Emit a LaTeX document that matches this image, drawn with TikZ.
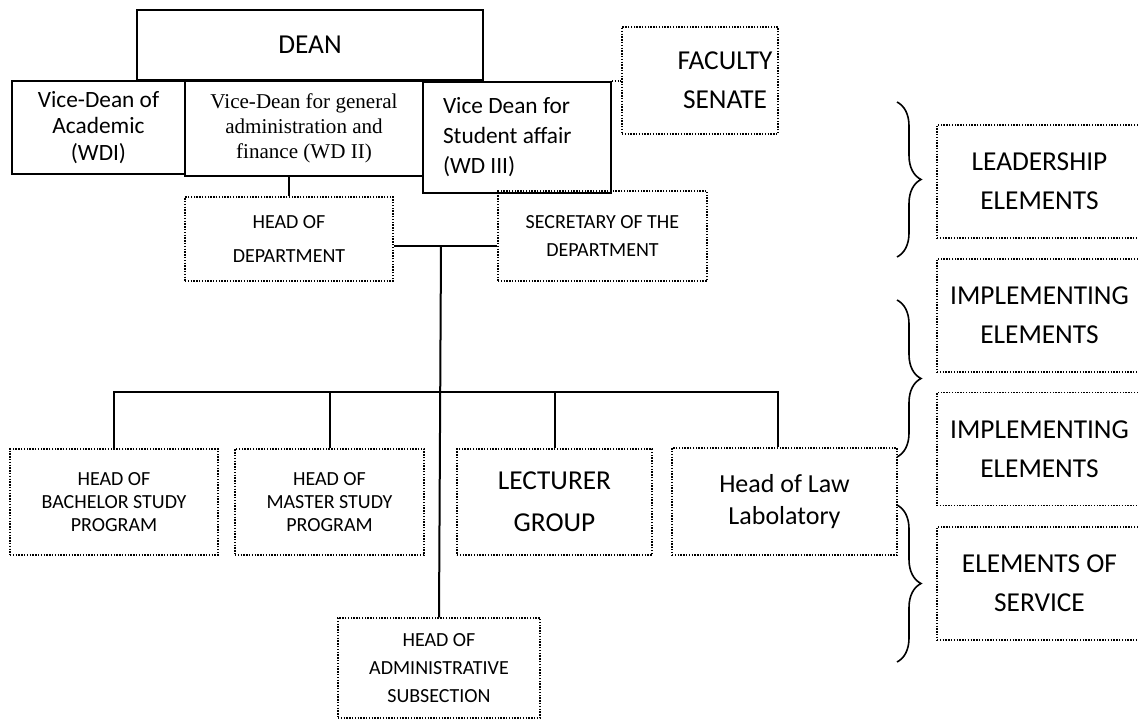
\documentclass[tikz,border=0pt]{standalone}
\usepackage{fontspec}
\setmainfont{Carlito}
\newfontfamily\timesfont{Liberation Serif}
\usetikzlibrary{decorations.pathreplacing}

\tikzset{
  solidbox/.style={draw, line width=1.4pt, align=center, inner sep=0pt},
  dotbox/.style={draw, line width=1.1pt, dash pattern=on 1.1pt off 1pt, align=center, inner sep=0pt},
  link/.style={line width=1.5pt},
  dotlink/.style={line width=1.1pt, dash pattern=on 1.1pt off 1pt},
  curly/.style={line width=1.2pt, decorate, decoration={brace, amplitude=18pt, aspect=0.5}},
  bigtext/.style={font=\fontsize{20.5}{29}\selectfont},
  midtext/.style={font=\fontsize{17.5}{20}\selectfont},
  smalltext/.style={font=\fontsize{15}{21}\selectfont},
  sidebox/.style={dotbox, bigtext, minimum width=153.75pt, minimum height=84.75pt},
}

\begin{document}
\begin{tikzpicture}[x=0.75pt, y=-0.75pt]
\useasboundingbox (0,0) rectangle (1138,720);
\clip (0,0) rectangle (1138,720);
\fill[white] (0,0) rectangle (1138,720);

% leadership
\node[solidbox, bigtext, minimum width=259.5pt, minimum height=52.5pt] (dean) at (310,45) {DEAN};
\node[solidbox, midtext, minimum width=129.75pt, minimum height=69.75pt] (wd1) at (98.5,127.5) {Vice-Dean of\\Academic\\(WDI)};
\node[solidbox, font=\timesfont\fontsize{15.8}{18.75}\selectfont, minimum width=178.5pt, minimum height=71.25pt] (wd2) at (304,128.5) {Vice-Dean for general\\administration and\\finance (WD II)};
\node[solidbox, font=\fontsize{17.5}{22.5}\selectfont, align=flush left, inner xsep=15pt, text width=111pt, minimum height=83.25pt] (wd3) at (517,137.5) {Vice Dean for\\Student affair\\(WD III)};
\node[dotbox, minimum width=117pt, minimum height=80.25pt] (sen) at (700,80.5) {};
\node[bigtext, align=center] (sentext) at (725,80) {FACULTY\\SENATE};

% department
\node[dotbox, font=\fontsize{15}{25}\selectfont, minimum width=156pt, minimum height=63pt] (hod) at (289,239) {HEAD OF\\DEPARTMENT};
\node[dotbox, smalltext, minimum width=156.75pt, minimum height=67.5pt] (sec) at (602.5,236) {SECRETARY OF THE\\DEPARTMENT};

% implementing
\node[dotbox, font=\fontsize{15}{17.5}\selectfont, minimum width=156pt, minimum height=79.5pt] (bach) at (114,502) {HEAD OF\\BACHELOR STUDY\\PROGRAM};
\node[dotbox, font=\fontsize{15}{17.5}\selectfont, minimum width=141.75pt, minimum height=79.5pt] (mast) at (329.5,502) {HEAD OF\\MASTER STUDY\\PROGRAM};
\node[dotbox, font=\fontsize{20.5}{31.5}\selectfont, minimum width=146.25pt, minimum height=79.5pt] (lect) at (554.5,502) {LECTURER\\GROUP};
\node[dotbox, font=\fontsize{19.5}{24}\selectfont, minimum width=168.75pt, minimum height=80.25pt] (law) at (784.5,501.5) {Head of Law\\Labolatory};
\node[dotbox, smalltext, minimum width=151.5pt, minimum height=75pt] (adm) at (439,668) {HEAD OF\\ADMINISTRATIVE\\SUBSECTION};

% side labels
\node[sidebox] (lead) at (1039.5,181.5) {LEADERSHIP\\ELEMENTS};
\node[sidebox] (impa) at (1039.5,315.5) {IMPLEMENTING\\ELEMENTS};
\node[sidebox] (impb) at (1039.5,449) {IMPLEMENTING\\ELEMENTS};
\node[sidebox] (serv) at (1039.5,583.5) {ELEMENTS OF\\SERVICE};

% lines
\coordinate (hub) at (441,246);
\coordinate (bus) at (441,392);
\draw[link] (hod.north) -- (hod.north |- wd2.south);
\draw[link] (hod.east |- hub) -- (sec.west |- hub);
\draw[link] (hub) -- (adm.north);
\draw[link] (bach.north) -- (bach.north |- bus) -- ([xshift=-5.25pt]law.north |- bus) -- ([xshift=-5.25pt]law.north);
\draw[link] (mast.north) -- (mast.north |- bus);
\draw[link] (lect.north) -- (lect.north |- bus);
\draw[dotlink] (wd3.north east) -- (wd3.north east -| sen.west);

% braces
\draw[curly] (897,102) -- (897,257);
\draw[curly] (897,300) -- (897,457);
\draw[curly] (897,505) -- (897,662);
\end{tikzpicture}
\end{document}
